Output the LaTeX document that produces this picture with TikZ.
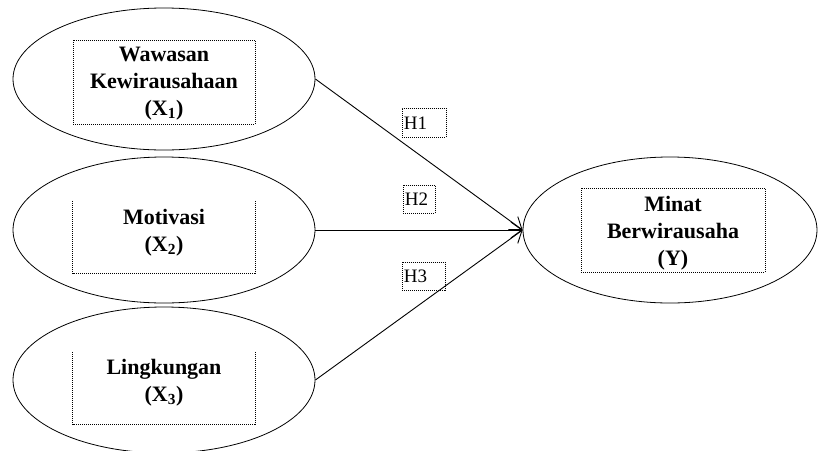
\documentclass[tikz,border=0pt]{standalone}
\usepackage{fontspec}
\setmainfont{Liberation Serif}
\usetikzlibrary{arrows.meta}
\usetikzlibrary{shapes.geometric}
\tikzset{
%Define standard arrow tip
>={Straight Barb[length=11pt,width=16pt]},
%Define styles for the model
construct/.style={ellipse, draw, line width=0.8pt, inner sep=0pt, minimum width=302pt, minimum height=146pt},
frame/.style={line width=0.8pt, dash pattern=on 1pt off 1pt},
boxarea/.style={inner sep=0pt, minimum width=182pt, minimum height=72pt},
varname/.style={font=\bfseries\fontsize{22}{27}\selectfont, align=center},
hyp/.style={draw, frame, anchor=north west, inner sep=1.5pt, minimum height=28pt, align=left, font=\fontsize{19}{22}\selectfont},
link/.style={->, line width=0.9pt},
}

\begin{document}
\begin{tikzpicture}[x=1pt, y=-1pt]

\useasboundingbox (0,0) rectangle (818,450);

% X1
\node[construct, minimum height=142pt] (e1) at (164,79) {};
\node[boxarea, draw, frame, minimum height=84pt] (b1) at (164,82) {};
\node[varname] (t1) at (164,84) {Wawasan\\Kewirausahaan\\(X\textsubscript{1})};

% X2
\node[construct] (e2) at (164,230) {};
\node[boxarea] (b2) at (164,237) {};
\draw[frame] (b2.north west) -- (b2.south west) -- (b2.south east) -- (b2.north east);
\node[varname] (t2) at (164,233) {Motivasi\\(X\textsubscript{2})};

% X3
\node[construct] (e3) at (164,380) {};
\node[boxarea] (b3) at (164,388) {};
\draw[frame] (b3.north west) -- (b3.south west) -- (b3.south east) -- (b3.north east);
\node[varname] (t3) at (164,383) {Lingkungan\\(X\textsubscript{3})};

% Y
\node[construct, minimum width=294pt] (ey) at (670,230) {};
\node[boxarea, draw, frame, minimum width=184pt, minimum height=84pt] (by) at (673,230) {};
\node[varname] (ty) at (673,233) {Minat\\Berwirausaha\\(Y)};

% hypotheses
\draw[link] (e1.east) -- (ey.west);
\draw[link] (e2.east) -- (ey.west);
\draw[link] (e3.east) -- (ey.west);
\node[hyp, text width=41pt, minimum height=29pt] (h1) at (402,108) {H1};
\node[hyp, text width=29pt] (h2) at (403,185) {H2};
\node[hyp, text width=40pt] (h3) at (402,262) {H3};

\end{tikzpicture}
\end{document}
